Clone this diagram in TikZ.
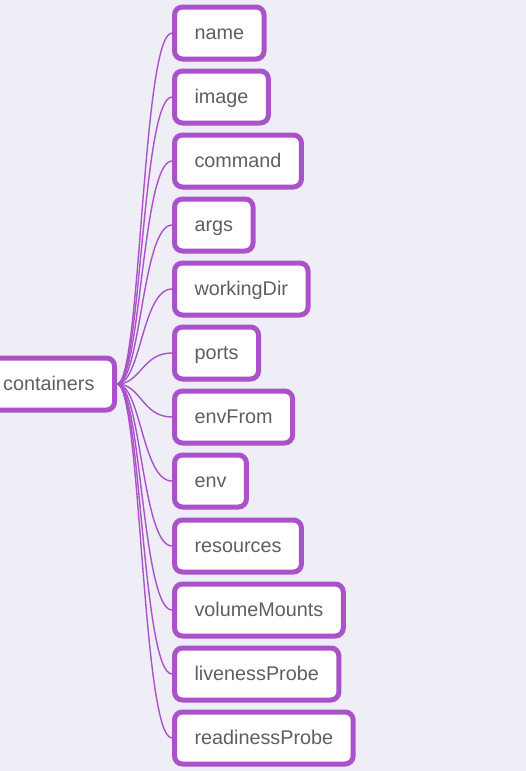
\documentclass[tikz,border=0pt]{standalone}
\usepackage{fontspec}
\setmainfont{Liberation Sans}
\usepackage{xcolor}
\usetikzlibrary{positioning,backgrounds}
\definecolor{mmpurple}{RGB}{170,82,200}
\definecolor{mmback}{RGB}{239,238,246}
\definecolor{mmtext}{RGB}{95,95,95}
\tikzset{
  mmbox/.style={rectangle,draw=mmpurple,line width=5pt,fill=white,rounded corners=8pt,
    minimum height=52pt,inner xsep=20pt,text height=13.6pt,text depth=0pt,
    text=mmtext,font=\fontsize{19.8}{22}\selectfont},
  mmedge/.style={draw=mmpurple,line width=1.4pt}
}
\begin{document}
\begin{tikzpicture}[x=1pt,y=-1pt]
% page and background
\useasboundingbox (0,0) rectangle (526,771);
\begin{scope}[on background layer]
\fill[mmback] (0,0) rectangle (526,771);
\end{scope}

% root
\node[mmbox,anchor=east] (containers) at (117,384) {containers};

% children
\node[mmbox,anchor=west] (name) at (172,33) {name};
\node[mmbox,anchor=west] (image) at (172,97) {image};
\node[mmbox,anchor=west] (command) at (172,161) {command};
\node[mmbox,anchor=west] (args) at (172,225) {args};
\node[mmbox,anchor=west] (workingDir) at (172,289) {workingDir};
\node[mmbox,anchor=west] (ports) at (172,353) {ports};
\node[mmbox,anchor=west] (envFrom) at (172,417) {envFrom};
\node[mmbox,anchor=west] (env) at (172,481) {env};
\node[mmbox,anchor=west] (resources) at (172,546) {resources};
\node[mmbox,anchor=west] (volumeMounts) at (172,610) {volumeMounts};
\node[mmbox,anchor=west] (livenessProbe) at (172,674) {livenessProbe};
\node[mmbox,anchor=west] (readinessProbe) at (172,738) {readinessProbe};

% connectors, behind the boxes
\begin{scope}[on background layer]
\draw[mmedge] (containers.east) .. controls +(24,0) and +(-30,0) .. (name.west);
\draw[mmedge] (containers.east) .. controls +(24,0) and +(-30,0) .. (image.west);
\draw[mmedge] (containers.east) .. controls +(24,0) and +(-30,0) .. (command.west);
\draw[mmedge] (containers.east) .. controls +(24,0) and +(-30,0) .. (args.west);
\draw[mmedge] (containers.east) .. controls +(24,0) and +(-30,0) .. (workingDir.west);
\draw[mmedge] (containers.east) .. controls +(24,0) and +(-30,0) .. (ports.west);
\draw[mmedge] (containers.east) .. controls +(24,0) and +(-30,0) .. (envFrom.west);
\draw[mmedge] (containers.east) .. controls +(24,0) and +(-30,0) .. (env.west);
\draw[mmedge] (containers.east) .. controls +(24,0) and +(-30,0) .. (resources.west);
\draw[mmedge] (containers.east) .. controls +(24,0) and +(-30,0) .. (volumeMounts.west);
\draw[mmedge] (containers.east) .. controls +(24,0) and +(-30,0) .. (livenessProbe.west);
\draw[mmedge] (containers.east) .. controls +(24,0) and +(-30,0) .. (readinessProbe.west);
\end{scope}
\end{tikzpicture}
\end{document}
